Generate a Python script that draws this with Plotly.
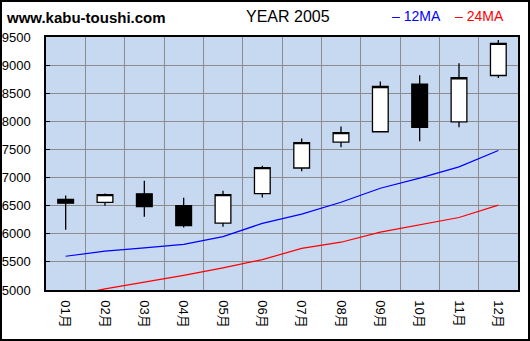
import plotly.graph_objects as go

# Monthly OHLC for 2005
months = ["01月", "02月", "03月", "04月", "05月", "06月",
          "07月", "08月", "09月", "10月", "11月", "12月"]
open_ = [6610, 6560, 6710, 6500, 6190, 6715, 7170, 7630, 7815, 8660, 7990, 8815]
high = [6680, 6715, 6945, 6640, 6765, 7210, 7695, 7910, 8710, 8820, 9035, 9445]
low = [6070, 6500, 6305, 6110, 6125, 6645, 7110, 7540, 7815, 7645, 7895, 8770]
close = [6545, 6695, 6485, 6145, 6695, 7175, 7620, 7800, 8620, 7895, 8775, 9385]

# Moving averages
ma12 = [5600, 5690, 5750, 5810, 5950, 6185, 6350, 6560, 6810, 6990, 7190, 7480]
ma24 = [4880, 5020, 5140, 5260, 5395, 5540, 5740, 5850, 6030, 6160, 6290, 6510]

y_ticks = list(range(5000, 9501, 500))

xpos = [i + 0.5 for i in range(len(months))]

FONT = "Liberation Sans, Arial, Noto Sans CJK JP, sans-serif"

fig = go.Figure()

fig.add_trace(go.Scatter(x=xpos, y=ma24, mode="lines",
                         line=dict(color="#FF0000", width=1.2),
                         hoverinfo="skip", showlegend=False))
fig.add_trace(go.Scatter(x=xpos, y=ma12, mode="lines",
                         line=dict(color="#0000FF", width=1.2),
                         hoverinfo="skip", showlegend=False))

fig.add_trace(go.Candlestick(
    x=xpos, open=open_, high=high, low=low, close=close,
    increasing=dict(fillcolor="#FFFFFF", line=dict(color="#000000", width=1.3)),
    decreasing=dict(fillcolor="#000000", line=dict(color="#000000", width=1.3)),
    whiskerwidth=0, showlegend=False,
))

L, R, T, B = 46, 12, 37, 51
W, H = 530, 341
pw, ph = W - L - R, H - T - B


def px_x(p):
    return (p - L) / pw


def px_y(p):
    return (H - B - p) / ph


fig.update_layout(
    template="none",
    width=W, height=H,
    margin=dict(l=L, r=R, t=T, b=B, pad=0, autoexpand=False),
    paper_bgcolor="#FFFFFF",
    plot_bgcolor="#C6D9F0",
    font=dict(family=FONT, size=13, color="#000000"),
    boxgap=0.6, boxgroupgap=0,
    xaxis=dict(
        range=[0, 12], tickmode="array", tickvals=xpos, ticktext=months,
        tickangle=90, showgrid=False, ticks="", rangeslider=dict(visible=False),
        showline=True, linecolor="#000000", linewidth=1.5, mirror=True,
        minor=dict(tickmode="array", tickvals=list(range(1, 12)),
                   showgrid=True, gridcolor="#8C8C8C", gridwidth=1, ticks=""),
        zeroline=False, fixedrange=True, ticklabelstandoff=6, automargin=False,
    ),
    yaxis=dict(
        range=[5000, 9500], tickmode="array", tickvals=y_ticks,
        showgrid=True, gridcolor="#8C8C8C", gridwidth=1,
        ticks="inside", ticklen=4, tickcolor="#000000",
        showline=True, linecolor="#000000", linewidth=1.5, mirror=True,
        zeroline=False, fixedrange=True, ticklabelstandoff=11, automargin=False,
    ),
    annotations=[
        dict(text="<b>www.kabu-toushi.com</b>", xref="paper", yref="paper",
             x=px_x(4), y=px_y(18), xanchor="left", yanchor="middle",
             showarrow=False, font=dict(size=15, color="#000000")),
        dict(text="YEAR 2005", xref="paper", yref="paper",
             x=px_x(288), y=px_y(16), xanchor="center", yanchor="middle",
             showarrow=False, font=dict(size=16, color="#000000")),
        dict(text="– 12MA", xref="paper", yref="paper",
             x=px_x(390), y=px_y(16), xanchor="left", yanchor="middle",
             showarrow=False, font=dict(size=14, color="#0000FF")),
        dict(text="– 24MA", xref="paper", yref="paper",
             x=px_x(453), y=px_y(16), xanchor="left", yanchor="middle",
             showarrow=False, font=dict(size=14, color="#FF0000")),
    ],
    shapes=[
        dict(type="rect", xref="paper", yref="paper",
             x0=px_x(1), x1=px_x(W - 1), y0=px_y(H - 1), y1=px_y(1),
             line=dict(color="#000000", width=2), fillcolor="rgba(0,0,0,0)",
             layer="above"),
    ],
)

fig.write_html("out.html")
